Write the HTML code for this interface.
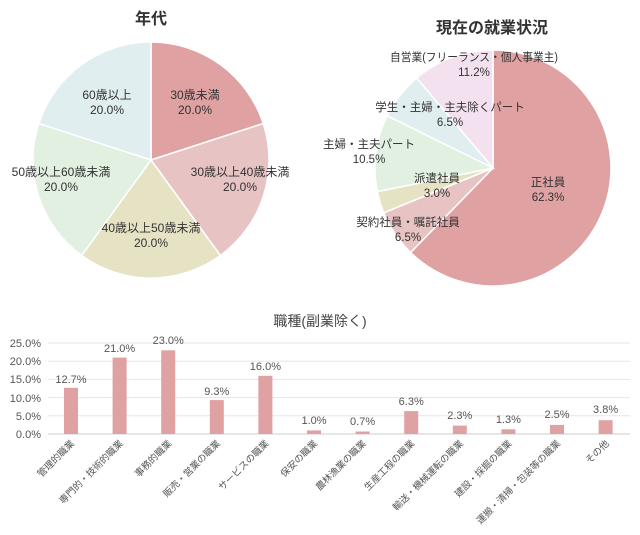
<!DOCTYPE html>
<html><head><meta charset="utf-8"><style>
html,body{margin:0;padding:0;background:#fff;}
svg{display:block;font-family:"Liberation Sans","Noto Sans CJK JP",sans-serif;}
</style></head><body>
<svg width="640" height="535" viewBox="0 0 640 535">
<!-- Pie 1 -->
<text x="151" y="24" text-anchor="middle" font-size="16" font-weight="bold" fill="#333">年代</text>
<g stroke="#fff" stroke-width="1.5">
<path d="M151,160 L151,42 A118,118 0 0 1 263.2,123.5 Z" fill="#e0a1a2"/>
<path d="M151,160 L263.2,123.5 A118,118 0 0 1 220.4,255.5 Z" fill="#e8c3c4"/>
<path d="M151,160 L220.4,255.5 A118,118 0 0 1 81.6,255.5 Z" fill="#e6e3c4"/>
<path d="M151,160 L81.6,255.5 A118,118 0 0 1 38.8,123.5 Z" fill="#e1f0e1"/>
<path d="M151,160 L38.8,123.5 A118,118 0 0 1 151,42 Z" fill="#e1eef0"/>
</g>
<g font-size="12" fill="#333" text-anchor="middle">
<text x="195" y="99">30歳未満</text><text x="195" y="114">20.0%</text>
<text x="240" y="176">30歳以上40歳未満</text><text x="240" y="191">20.0%</text>
<text x="151" y="232">40歳以上50歳未満</text><text x="151" y="247">20.0%</text>
<text x="61" y="176">50歳以上60歳未満</text><text x="61" y="191">20.0%</text>
<text x="107" y="99">60歳以上</text><text x="107" y="114">20.0%</text>
</g>
<!-- Pie 2 -->
<text x="492" y="33" text-anchor="middle" font-size="16" font-weight="bold" fill="#333">現在の就業状況</text>
<g stroke="#fff" stroke-width="1.5">
<path d="M493,168 L493,50 A118,118 0 1 1 410.6,252.5 Z" fill="#e0a1a2"/>
<path d="M493,168 L410.6,252.5 A118,118 0 0 1 383.8,212.8 Z" fill="#e8c3c4"/>
<path d="M493,168 L383.8,212.8 A118,118 0 0 1 377.4,191.6 Z" fill="#e6e3c4"/>
<path d="M493,168 L377.4,191.6 A118,118 0 0 1 387.2,115.8 Z" fill="#e1f0e1"/>
<path d="M493,168 L387.2,115.8 A118,118 0 0 1 416.7,78 Z" fill="#e1eef0"/>
<path d="M493,168 L416.7,78 A118,118 0 0 1 493,50 Z" fill="#f3e1f0"/>
</g>
<g font-size="11.5" fill="#333" text-anchor="middle">
<text x="548" y="186">正社員</text><text x="548" y="201">62.3%</text>
<text x="408" y="226">契約社員・嘱託社員</text><text x="408" y="241">6.5%</text>
<text x="437" y="182">派遣社員</text><text x="437" y="197">3.0%</text>
<text x="369" y="148">主婦・主夫パート</text><text x="369" y="163">10.5%</text>
<text x="450" y="111">学生・主婦・主夫除くパート</text><text x="450" y="126">6.5%</text>
<text x="474" y="61" textLength="168" lengthAdjust="spacingAndGlyphs">自営業(フリーランス・個人事業主)</text><text x="474" y="76">11.2%</text>
</g>
<!-- Bar chart -->
<text x="320" y="326" text-anchor="middle" font-size="14" fill="#444">職種(副業除く)</text>
<g stroke="#e6e6e6" stroke-width="1">
<line x1="48" y1="343" x2="630" y2="343"/>
<line x1="48" y1="361.2" x2="630" y2="361.2"/>
<line x1="48" y1="379.4" x2="630" y2="379.4"/>
<line x1="48" y1="397.6" x2="630" y2="397.6"/>
<line x1="48" y1="415.8" x2="630" y2="415.8"/>
<line x1="48" y1="434" x2="630" y2="434" stroke="#ccc"/>
</g>
<g font-size="11" fill="#555" text-anchor="end">
<text x="41" y="347">25.0%</text><text x="41" y="365">20.0%</text><text x="41" y="383">15.0%</text>
<text x="41" y="402">10.0%</text><text x="41" y="420">5.0%</text><text x="41" y="438">0.0%</text>
</g>
<g fill="#e0a1a2">
<rect x="64" y="387.8" width="14" height="46.2"/>
<rect x="112.6" y="357.6" width="14" height="76.4"/>
<rect x="161.2" y="350.3" width="14" height="83.7"/>
<rect x="209.8" y="400.1" width="14" height="33.9"/>
<rect x="258.4" y="375.8" width="14" height="58.2"/>
<rect x="307" y="430.4" width="14" height="3.6"/>
<rect x="355.6" y="431.5" width="14" height="2.5"/>
<rect x="404.2" y="411.1" width="14" height="22.9"/>
<rect x="452.8" y="425.6" width="14" height="8.4"/>
<rect x="501.4" y="429.3" width="14" height="4.7"/>
<rect x="550" y="424.9" width="14" height="9.1"/>
<rect x="598.6" y="420.2" width="14" height="13.8"/>
</g>
<g font-size="11" fill="#555" text-anchor="middle">
<text x="71" y="383">12.7%</text><text x="119.6" y="352">21.0%</text><text x="168.2" y="344">23.0%</text>
<text x="216.8" y="395">9.3%</text><text x="265.4" y="370">16.0%</text><text x="314" y="424">1.0%</text>
<text x="362.6" y="425">0.7%</text><text x="411.2" y="405">6.3%</text><text x="459.8" y="419">2.3%</text>
<text x="508.4" y="423">1.3%</text><text x="557" y="418">2.5%</text><text x="605.6" y="413">3.8%</text>
</g>
<g font-size="9.5" fill="#555" text-anchor="end">
<text transform="translate(75,444) rotate(-45)">管理的職業</text>
<text transform="translate(123.6,444) rotate(-45)">専門的・技術的職業</text>
<text transform="translate(172.2,444) rotate(-45)">事務的職業</text>
<text transform="translate(220.8,444) rotate(-45)">販売・営業の職業</text>
<text transform="translate(269.4,444) rotate(-45)">サービスの職業</text>
<text transform="translate(318,444) rotate(-45)">保安の職業</text>
<text transform="translate(366.6,444) rotate(-45)">農林漁業の職業</text>
<text transform="translate(415.2,444) rotate(-45)">生産工程の職業</text>
<text transform="translate(463.8,444) rotate(-45)">輸送・機械運転の職業</text>
<text transform="translate(512.4,444) rotate(-45)">建設・採掘の職業</text>
<text transform="translate(561,444) rotate(-45)">運搬・清掃・包装等の職業</text>
<text transform="translate(609.6,444) rotate(-45)">その他</text>
</g>
</svg>
</body></html>
